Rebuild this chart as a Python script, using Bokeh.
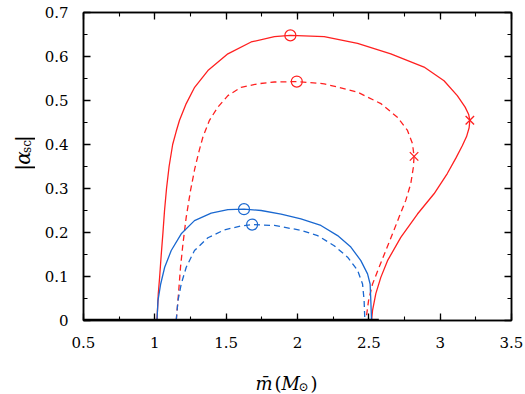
import numpy as np
from bokeh.plotting import figure
from bokeh.layouts import row, column
from bokeh.models import LinearAxis, FixedTicker, Range1d, CustomJSTickFormatter
from bokeh.core.properties import value
from bokeh.embed import file_html
from bokeh.resources import INLINE

# ---- data ----
red_solid_x = [1.015, 1.018, 1.024, 1.034, 1.045, 1.057, 1.068, 1.082, 1.100, 1.125, 1.150,
               1.173, 1.220, 1.279, 1.372, 1.512, 1.675, 1.838, 1.950,
               2.187, 2.421, 2.654, 2.887, 3.027, 3.120, 3.175, 3.200, 3.208, 3.203, 3.185,
               3.155, 3.110, 3.050, 2.957, 2.841, 2.724, 2.631, 2.584, 2.549, 2.526, 2.519]
red_solid_y = [0.0, 0.02, 0.06, 0.10, 0.15, 0.20, 0.25, 0.30, 0.35, 0.40, 0.43,
               0.455, 0.493, 0.530, 0.568, 0.606, 0.633, 0.645, 0.648,
               0.645, 0.630, 0.606, 0.576, 0.545, 0.511, 0.485, 0.468, 0.455, 0.438, 0.418,
               0.397, 0.369, 0.334, 0.288, 0.242, 0.189, 0.136, 0.098, 0.061, 0.023, 0.0]

red_dash_x = [1.150, 1.162, 1.180, 1.197, 1.220, 1.250, 1.280, 1.310, 1.337, 1.383, 1.442,
              1.512, 1.605, 1.722, 1.838, 1.995,
              2.187, 2.421, 2.584, 2.700, 2.771, 2.806, 2.817, 2.812, 2.794, 2.759,
              2.712, 2.666, 2.619, 2.572, 2.526, 2.498, 2.479]
red_dash_y = [0.0, 0.045, 0.121, 0.174, 0.235, 0.295, 0.345, 0.385, 0.417, 0.455, 0.485,
              0.511, 0.530, 0.538, 0.542, 0.543,
              0.538, 0.519, 0.493, 0.462, 0.432, 0.402, 0.373, 0.348, 0.311, 0.273,
              0.235, 0.197, 0.159, 0.121, 0.083, 0.045, 0.0]

blue_solid_x = [1.015, 1.022, 1.041, 1.069, 1.115, 1.185, 1.278, 1.395, 1.512, 1.625,
                1.745, 1.885, 2.024, 2.164, 2.281, 2.374, 2.444, 2.491, 2.509, 2.514, 2.519]
blue_solid_y = [0.0, 0.045, 0.083, 0.121, 0.159, 0.197, 0.227, 0.244, 0.252, 0.253,
                0.250, 0.242, 0.231, 0.216, 0.193, 0.167, 0.136, 0.106, 0.083, 0.045, 0.0]

blue_dash_x = [1.150, 1.162, 1.185, 1.220, 1.278, 1.372, 1.488, 1.605, 1.682, 1.838,
               2.024, 2.141, 2.257, 2.351, 2.421, 2.456, 2.467, 2.472]
blue_dash_y = [0.0, 0.045, 0.083, 0.121, 0.159, 0.188, 0.206, 0.215, 0.218, 0.216,
               0.205, 0.193, 0.170, 0.144, 0.114, 0.083, 0.045, 0.0]

zero_x = [0.5, 2.57]
zero_y = [0.0, 0.0]

red_circle_x = [1.950, 1.995]
red_circle_y = [0.648, 0.543]
red_cross_x = [3.208, 2.817]
red_cross_y = [0.455, 0.373]
blue_circle_x = [1.625, 1.682]
blue_circle_y = [0.253, 0.218]

x_ticks = [0.5, 1.0, 1.5, 2.0, 2.5, 3.0, 3.5]
y_ticks = [0.0, 0.1, 0.2, 0.3, 0.4, 0.5, 0.6, 0.7]
x_minor = [0.5 + 0.25 * i for i in range(13)]
y_minor = [0.05 * i for i in range(15)]

# axis title pieces
x_title_parts = ["m\u0304", "(", "M", "\u2299", ")"]
y_title_parts = ["|", "\u03b1", "sc", "|"]

RED = "#ff2020"
BLUE = "#1a68d0"
FONT = "DejaVu Serif"
W, H = 525, 394
YW = 35          # width of the y-title strip
XH = 30          # height of the x-title strip
MH = H - XH      # height of the main plot

p = figure(width=W - YW, height=MH, output_backend="svg", toolbar_location=None,
           x_range=Range1d(0.5, 3.5), y_range=Range1d(0, 0.7),
           min_border_left=83 - YW, min_border_right=14, min_border_top=12,
           min_border_bottom=MH - 320, x_axis_type=None, y_axis_type=None)
p.grid.visible = False
p.outline_line_color = "black"
p.outline_line_width = 1.5
p.background_fill_color = "white"
p.border_fill_color = "white"

FMT = "if (Math.abs(tick) < 1e-9) { return '0'; } return String(Math.round(tick * 100) / 100);"


def style_axis(ax, ticks, minor, show_labels):
    ax.ticker = FixedTicker(ticks=ticks, minor_ticks=minor)
    ax.axis_line_color = "black"
    ax.axis_line_width = 1.5
    ax.major_tick_in = 7
    ax.major_tick_out = 0
    ax.minor_tick_in = 4
    ax.minor_tick_out = 0
    ax.major_tick_line_width = 1.3
    ax.minor_tick_line_width = 1.1
    ax.major_tick_line_color = "black"
    ax.minor_tick_line_color = "black"
    if show_labels:
        ax.formatter = CustomJSTickFormatter(code=FMT)
        ax.major_label_text_font = FONT
        ax.major_label_text_font_size = "15px"
        ax.major_label_text_color = "black"
    else:
        ax.formatter = CustomJSTickFormatter(code="return '';")
        ax.major_label_standoff = 0


bx = LinearAxis()
style_axis(bx, x_ticks, x_minor, True)
bx.major_label_standoff = 16
p.add_layout(bx, "below")
ax_top = LinearAxis()
style_axis(ax_top, x_ticks, x_minor, False)
p.add_layout(ax_top, "above")
ly = LinearAxis()
style_axis(ly, y_ticks, y_minor, True)
ly.major_label_standoff = 15
p.add_layout(ly, "left")
ry = LinearAxis()
style_axis(ry, y_ticks, y_minor, False)
p.add_layout(ry, "right")

p.line(red_solid_x, red_solid_y, line_color=RED, line_width=1.3)
p.line(red_dash_x, red_dash_y, line_color=RED, line_width=1.3, line_dash="6 4")
p.line(blue_solid_x, blue_solid_y, line_color=BLUE, line_width=1.3)
p.line(blue_dash_x, blue_dash_y, line_color=BLUE, line_width=1.3, line_dash="6 4")
p.line(zero_x, zero_y, line_color="black", line_width=3.5)

p.scatter(red_circle_x, red_circle_y, marker="circle", size=11, fill_color=None,
          line_color=RED, line_width=1.2)
p.scatter(blue_circle_x, blue_circle_y, marker="circle", size=11, fill_color=None,
          line_color=BLUE, line_width=1.2)
p.scatter(red_cross_x, red_cross_y, marker="x", size=12, line_color=RED, line_width=1.3)


def strip(w, h):
    f = figure(width=w, height=h, output_backend="svg", toolbar_location=None,
               x_range=Range1d(0, w), y_range=Range1d(0, h), min_border=0,
               x_axis_type=None, y_axis_type=None)
    f.grid.visible = False
    f.outline_line_color = None
    f.background_fill_color = "white"
    f.border_fill_color = "white"
    return f


# ---- y title strip (page pixels: x from left, y from top) ----
yf = strip(YW, MH)
y_sizes = ["20px", "20px", "12px", "20px"]
y_styles = ["normal", "italic", "normal", "normal"]
y_base = [22, 22, 26, 22]        # baseline column (page x)
y_start = [187, 180, 166, 153]   # where each piece starts (page y), reading upward
for t, s, st, bx_, by_ in zip(y_title_parts, y_sizes, y_styles, y_base, y_start):
    yf.text(x=[bx_], y=[MH - by_], text=[t], angle=np.pi / 2, text_font=value(FONT),
            text_font_size=s, text_font_style=st, text_align="left",
            text_baseline="alphabetic", text_color="black")

# ---- x title strip ----
xf = strip(W, XH)
x_sizes = ["18px", "18px", "18px", "12px", "18px"]
x_styles = ["italic", "normal", "italic", "normal", "normal"]
x_left = [255, 274, 281, 298, 310]
x_base = [383, 383, 383, 386, 383]
for t, s, st, lx, lb in zip(x_title_parts, x_sizes, x_styles, x_left, x_base):
    xf.text(x=[lx], y=[H - lb], text=[t], text_font=value(FONT), text_font_size=s,
            text_font_style=st, text_align="left", text_baseline="alphabetic",
            text_color="black")

layout = column(row(yf, p), xf)
open("out.html", "w").write(file_html(layout, INLINE))
